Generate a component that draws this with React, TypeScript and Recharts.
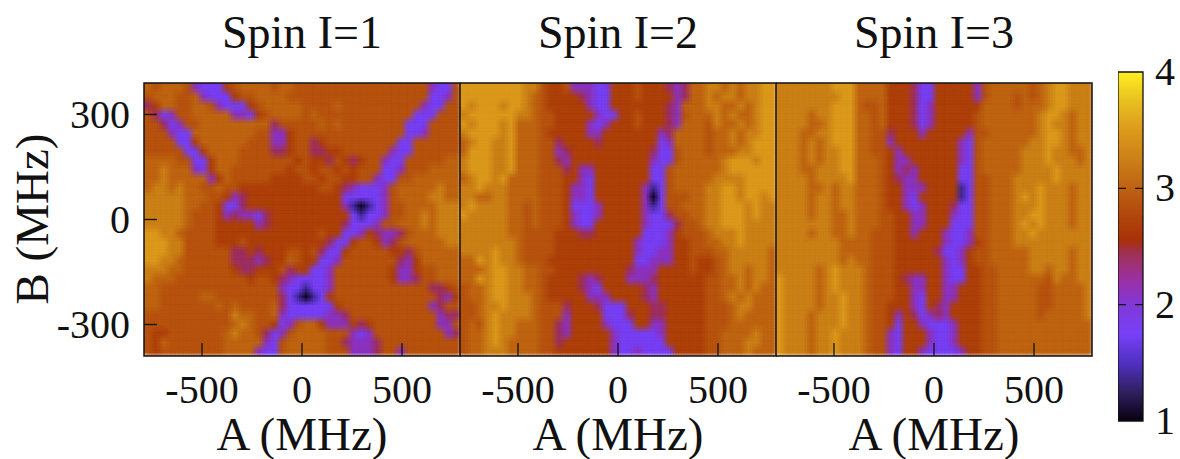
import React from 'react';
import { ScatterChart, Scatter, XAxis, YAxis, ReferenceArea, ReferenceLine } from 'recharts';

// Each digit is a level of the colour scale (see LEVEL_VALUES); columns run along A, rows from top B to bottom B.
const LEVEL_VALUES = [1.05, 1.4, 1.78, 2.1, 2.4, 2.72, 2.88, 3.03, 3.25, 3.5];

const spin1Rows = [
  '7677763222 5677776776 6666666666 6666663226',
  '6777667322 2566777766 6666666666 6666662236',
  '4577667763 2225677777 6666766666 6666632266',
  '6423667777 7332567777 6766666666 6666222666',
  '6642366777 7777774666 6676766666 6662226666',
  '6663227777 7777663356 6666666666 6662236666',
  '6666225777 7776663356 6456666666 6622666666',
  '6666622577 7766664456 6445566666 6322666666',
  '7777662257 7766666665 6554654566 3226666677',
  '7787773257 7666666656 6566565666 2236667777',
  '7787777735 7666665555 6656655663 2266777777',
  '7887877667 6655555555 5566543222 3677777877',
  '8888877766 5345555555 5555522222 3677778877',
  '8888877665 2245555555 5555531012 3667777888',
  '8888876665 3433245555 5555552122 3667787888',
  '8888876665 5555345555 5555542223 6677787888',
  '9988766665 5555555555 5565522354 3346777888',
  '9998866665 5565555555 5554225665 3467777788',
  '9998866666 6445455566 5642256666 6554677777',
  '9988766666 6444345576 5522366666 6643577777',
  '8887766666 6544555645 5223666666 6533566777',
  '8777666666 6665665432 2223666666 6533466777',
  '7766666666 6666666322 1223666666 6666664456',
  '7766666776 6666666421 0125666666 6666666435',
  '7766666667 6766667422 2222566666 6666663466',
  '6666666666 6877667322 2223346666 6666666344',
  '6666666666 6787665236 7753335456 6666666336',
  '6556666666 7877642367 7776663236 6666666634',
  '6576666666 7777732677 7776643334 6666666666',
  '6566666666 7777322677 7776663334 6636666666',
];

const spin2Rows = [
  '9999999988 6556333225 5565554347 7887878899',
  '9999999987 6555543225 5565555347 7878878899',
  '9899989987 6555553225 5555554377 7887787899',
  '8999999887 6655555322 5565554367 7787877899',
  '9899989777 6655553235 5565554377 7687787899',
  '8999989777 6555553355 5555534777 7677878899',
  '7899889777 6645555455 5555523777 7677878999',
  '7999889777 6634555555 5555422677 7677788999',
  '8999889777 6643555555 5555322677 7778999899',
  '8999889777 6664533555 5555226777 7778999999',
  '7899897777 6665532555 5555226777 7788889999',
  '8898887777 6665332555 5553126777 7889989999',
  '8877887777 6665332555 5553026667 7889989989',
  '8988887767 6665222355 5553126677 7889998988',
  '9888887767 6665322355 5553224667 7889998988',
  '8888887767 6665322555 5553222466 7889998888',
  '8888887766 6655544555 5552223566 6788898888',
  '8888888766 6655555555 5532223556 6778898888',
  '8888988766 6655555555 5532233556 6677888887',
  '7798988766 6555555555 5522333556 5567888887',
  '7778998877 6655555555 5433355556 5567887887',
  '7798998877 6555543455 5333455555 5667787887',
  '6778998877 6555543255 5554355555 5667787877',
  '6778998887 6555553335 5554355555 5667878777',
  '6678898887 6664555422 2555445555 5666788777',
  '6678988887 6663555522 2455445555 5666787777',
  '6768988777 6643555532 2255335555 5666777777',
  '6778988777 6643555553 2222235555 5667777877',
  '6778987777 6645555553 2222225555 5667778877',
  '6778887777 6655555553 2232222555 5667778777',
];

const spin3Rows = [
  '8888888999 7777555422 5555536777 7767899888',
  '8888888899 7777555422 5555536777 6767899888',
  '8888888999 7667555423 5555557777 6777899888',
  '8888788999 7767555423 5555567777 7778998788',
  '8888778999 7767555423 5555567777 7778988788',
  '8887788999 7766455535 5555366777 7778998788',
  '8887878999 7766355555 5553267777 7788998788',
  '8887878899 7766535555 5553267777 7888988778',
  '8887878899 7776533555 5553267777 7888988878',
  '8887788899 7776534355 5552267777 7888898888',
  '8888788889 7776543355 5552266777 8888898888',
  '8888778788 7776553335 5551266777 8889888788',
  '8888788788 7776553255 5551266777 8989888788',
  '8888788788 7776553235 5542266777 8889888788',
  '8888788778 7776655335 5532266777 8899888788',
  '8888888778 7776655335 5522266777 8989888788',
  '8888788778 7766655355 5322366777 8898888888',
  '8888888877 7766655555 5322356777 8888888888',
  '8888888877 7766655555 4223566777 7788888788',
  '8888888878 7766655555 5323566777 7788888788',
  '8888878988 8766655555 5322556677 7788788788',
  '9888878988 8766654335 5322556677 7777687788',
  '9888878988 8766655335 5335556677 7776677778',
  '9888878898 8766655325 5335556677 7776677778',
  '9888878898 8766555325 4355556677 7776677778',
  '9888788898 8766535423 4355556677 7776777778',
  '9888788898 8766525532 2235556677 7777777777',
  '9888788988 8766325553 2235556677 7777777777',
  '9888788988 8766325553 2235556677 7777777777',
  '9888788988 8766325532 2223556677 7777777777',
];

const panelTitles = ['Spin I=1', 'Spin I=2', 'Spin I=3'];
const aTicks = [-500, 0, 500];
const bTicks = [-300, 0, 300];
const barTicks = [1, 2, 3, 4];
const scaleStops: [number, string][] = [
  [1, '#080010'], [1.25, '#302060'], [1.5, '#5030c0'], [1.75, '#7840f8'], [2, '#8038d8'],
  [2.2, '#9a30a8'], [2.45, '#a03050'], [2.55, '#a83008'], [2.75, '#b0440c'], [3, '#be6212'],
  [3.25, '#cc8018'], [3.5, '#dc9a1c'], [3.75, '#e8c020'], [4, '#ffee20'],
];
// Sub-cell shifts of the overlaid copies that soften the cell edges.
const softShifts = [-1 / 3, 0, 1 / 3];

const A_MAX = 790;
const B_MAX = 390;
const PW = 316;
const PH = 273;
const TOP = 83;
const FONT = '"Liberation Serif", serif';
const INK = '#111';

function hexRgb(h: string) {
  return [1, 3, 5].map((i) => parseInt(h.slice(i, i + 2), 16));
}
function colorOf(v: number) {
  for (let i = 1; i < scaleStops.length; i++) {
    if (v <= scaleStops[i][0]) {
      const [v0, c0] = scaleStops[i - 1];
      const [v1, c1] = scaleStops[i];
      const t = (v - v0) / (v1 - v0);
      const a = hexRgb(c0);
      const b = hexRgb(c1);
      return `rgb(${a.map((x, k) => Math.round(x + (b[k] - x) * t)).join(',')})`;
    }
  }
  return scaleStops[scaleStops.length - 1][1];
}
function toPoints(rows: string[]) {
  const clean = rows.map((r) => r.replace(/ /g, ''));
  const pts: { a: number; b: number; v: number; fill: string }[] = [];
  clean.forEach((r, j) => {
    r.split('').forEach((ch, i) => {
      const v = LEVEL_VALUES[Number(ch)];
      pts.push({
        a: -A_MAX + ((i + 0.5) * 2 * A_MAX) / r.length,
        b: B_MAX - ((j + 0.5) * 2 * B_MAX) / clean.length,
        v,
        fill: colorOf(v),
      });
    });
  });
  return pts;
}

const CW = PW / 40;
const CH = PH / 30;
const makeCell = (sx: number, sy: number, op: number) => (p: any) => (
  <rect
    x={p.cx - CW / 2 - 0.3 + sx * CW}
    y={p.cy - CH / 2 - 0.3 + sy * CH}
    width={CW + 0.6}
    height={CH + 0.6}
    fill={p.payload.fill}
    fillOpacity={op}
  />
);
const NoMark = () => null;

const XTick = (p: any) => (
  <g>
    <line x1={p.x} x2={p.x} y1={p.y} y2={p.y - 13} stroke={INK} strokeWidth={1.3} />
    <text x={p.x} y={p.y + 47} textAnchor="middle" fontFamily={FONT} fontSize={40} fill={INK}>
      {p.payload.value}
    </text>
  </g>
);
const YTick = (p: any) => (
  <g>
    <line x1={p.x} x2={p.x + 13} y1={p.y} y2={p.y} stroke={INK} strokeWidth={1.3} />
    <text x={p.x - 14} y={p.y + 13} textAnchor="end" fontFamily={FONT} fontSize={40} fill={INK}>
      {p.payload.value}
    </text>
  </g>
);
const BarTick = (p: any) => (
  <text x={p.x + 12} y={p.y + 13} textAnchor="start" fontFamily={FONT} fontSize={40} fill={INK}>
    {p.payload.value}
  </text>
);

function HeatLayer({ rows }: { rows: string[] }) {
  const data = toPoints(rows);
  const layers: React.ReactNode[] = [];
  let k = 0;
  softShifts.forEach((sy) =>
    softShifts.forEach((sx) => {
      k += 1;
      layers.push(
        <Scatter key={k} data={data} shape={makeCell(sx, sy, 1 / k)} isAnimationActive={false} />
      );
    })
  );
  return (
    <ScatterChart width={PW} height={PH} margin={{ top: 0, right: 0, bottom: 0, left: 0 }}>
      <XAxis type="number" dataKey="a" domain={[-A_MAX, A_MAX]} hide />
      <YAxis type="number" dataKey="b" domain={[-B_MAX, B_MAX]} hide />
      {layers}
    </ScatterChart>
  );
}

function Panel({ rows, left, withY, title }: { rows: string[]; left: number; withY: boolean; title: string }) {
  const yw = withY ? 144 : 0;
  return (
    <div style={{ position: 'absolute', left, top: 0 }}>
      <div style={{ position: 'absolute', left: yw, top: TOP, width: PW, height: PH, overflow: 'hidden' }}>
        <HeatLayer rows={rows} />
      </div>
      <div style={{ position: 'absolute', left: 0, top: 0 }}>
        <ScatterChart width={yw + PW + 2} height={459} margin={{ top: TOP, right: 2, bottom: 0, left: 0 }}>
          <XAxis
            type="number"
            dataKey="a"
            domain={[-A_MAX, A_MAX]}
            ticks={aTicks}
            height={103}
            axisLine={false}
            tickLine={false}
            tickSize={0}
            tickMargin={0}
            tick={XTick}
            interval={0}
            label={{ value: 'A (MHz)', position: 'insideBottom', offset: 9, fontFamily: FONT, fontSize: 47, fill: INK }}
          />
          <YAxis
            type="number"
            dataKey="b"
            domain={[-B_MAX, B_MAX]}
            ticks={bTicks}
            width={yw}
            hide={!withY}
            axisLine={false}
            tickLine={false}
            tickSize={0}
            tickMargin={0}
            tick={YTick}
            interval={0}
          />
          <Scatter data={[{ a: 0, b: 0 }]} shape={NoMark} isAnimationActive={false} />
          <ReferenceArea x1={-A_MAX} x2={A_MAX} y1={-B_MAX} y2={B_MAX} fill="none" stroke={INK} strokeWidth={1.5} />
        </ScatterChart>
      </div>
      <div
        style={{
          position: 'absolute',
          left: yw,
          width: PW,
          top: 3,
          textAlign: 'center',
          fontFamily: FONT,
          fontSize: 46,
          lineHeight: '60px',
          color: INK,
        }}
      >
        {title}
      </div>
      {withY && (
        <div
          style={{
            position: 'absolute',
            left: 32 - 100,
            top: 219 - 30,
            width: 200,
            height: 60,
            lineHeight: '60px',
            textAlign: 'center',
            transform: 'rotate(-90deg)',
            fontFamily: FONT,
            fontSize: 47,
            color: INK,
          }}
        >
          B (MHz)
        </div>
      )}
    </div>
  );
}

function ColorBar() {
  return (
    <div style={{ position: 'absolute', left: 1118, top: 0 }}>
      <ScatterChart width={62} height={459} margin={{ top: 72, right: 0, bottom: 38, left: 0 }}>
        <defs>
          <linearGradient id="cb" x1="0" y1="1" x2="0" y2="0">
            {scaleStops.map(([v, c]) => (
              <stop key={v} offset={`${((v - 1) / 3) * 100}%`} stopColor={c} />
            ))}
          </linearGradient>
        </defs>
        <XAxis type="number" dataKey="x" domain={[0, 1]} hide />
        <YAxis
          type="number"
          dataKey="y"
          orientation="right"
          domain={[1, 4]}
          ticks={barTicks}
          width={37}
          axisLine={false}
          tickLine={false}
          tickSize={0}
          tickMargin={0}
          tick={BarTick}
          interval={0}
        />
        <Scatter data={barTicks.map((y) => ({ x: 0.5, y }))} shape={NoMark} isAnimationActive={false} />
        <ReferenceArea x1={0} x2={1} y1={1} y2={4} fill="url(#cb)" fillOpacity={1} stroke={INK} strokeWidth={1.3} />
        {[2, 3].map((v) => (
          <ReferenceLine key={v} y={v} stroke={INK} strokeWidth={1.2} strokeDasharray="8 9 8" />
        ))}
      </ScatterChart>
    </div>
  );
}

export default function App() {
  return (
    <div style={{ position: 'absolute', left: 0, top: 0, width: 1180, height: 459, background: '#fff', overflow: 'hidden' }}>
      <Panel rows={spin1Rows} left={0} withY title={panelTitles[0]} />
      <Panel rows={spin2Rows} left={460} withY={false} title={panelTitles[1]} />
      <Panel rows={spin3Rows} left={776} withY={false} title={panelTitles[2]} />
      <ColorBar />
    </div>
  );
}
